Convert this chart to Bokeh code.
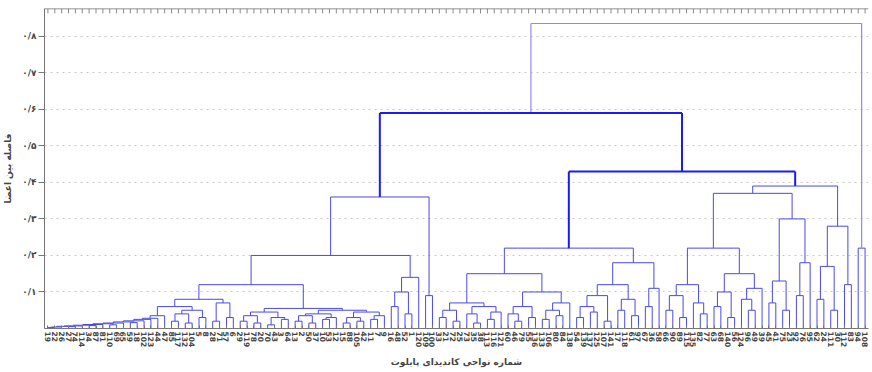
from bokeh.plotting import figure
from bokeh.models import FixedTicker, ColumnDataSource, Range1d
from bokeh.embed import file_html
from bokeh.resources import INLINE

# ---- data ----
leaf_labels = [
    19, 22, 26, 27, 74, 114, 34, 87, 81, 110,
    69, 65, 59, 18, 102, 123, 44, 47, 85, 117,
    132, 104, 5, 8, 28, 71, 57, 6, 29, 119,
    78, 20, 70, 43, 3, 64, 13, 2, 50, 37,
    10, 53, 12, 15, 88, 105, 42, 11, 7, 9,
    16, 48, 52, 1, 120, 109, 100, 33, 21, 72,
    25, 73, 35, 38, 113, 116, 121, 60, 46, 79,
    55, 136, 133, 106, 80, 84, 138, 54, 139, 137,
    125, 107, 141, 17, 118, 61, 97, 67, 36, 58,
    66, 90, 89, 115, 135, 82, 77, 63, 68, 140,
    56, 124, 96, 49, 39, 45, 41, 75, 23, 92,
    76, 95, 62, 24, 111, 30, 112, 83, 94, 108,
]

# merge height between each pair of neighbouring leaves (defines the ordered dendrogram)
gap_heights = (
    # left group
    [0.003, 0.004, 0.006, 0.005, 0.007, 0.009, 0.008, 0.011, 0.013, 0.010,
     0.015, 0.018, 0.016, 0.021, 0.025, 0.028, 0.035]
    + [0.06]
    + [0.020, 0.040, 0.015, 0.050, 0.030]
    + [0.08]
    + [0.020, 0.070, 0.030]
    + [0.12]
    + [0.020, 0.035, 0.015, 0.045, 0.010, 0.030, 0.025]
    + [0.055]
    + [0.020, 0.035, 0.015, 0.040, 0.025, 0.030]
    + [0.050]
    + [0.015, 0.030, 0.020, 0.045, 0.025, 0.035]
    + [0.20]
    + [0.06, 0.10, 0.04, 0.14]
    + [0.36]
    + [0.09]
    + [0.59]
    # right group
    + [0.030, 0.050, 0.020, 0.070, 0.040, 0.015, 0.060, 0.025, 0.045]
    + [0.15]
    + [0.040, 0.020, 0.060, 0.030, 0.100, 0.025, 0.050, 0.035, 0.070]
    + [0.22]
    + [0.030, 0.060, 0.045, 0.090, 0.020, 0.120, 0.050, 0.080, 0.035, 0.180, 0.060, 0.110]
    + [0.43]
    + [0.05, 0.09, 0.03, 0.12, 0.07, 0.04, 0.22, 0.06, 0.10, 0.03, 0.15, 0.08, 0.05, 0.11]
    + [0.37]
    + [0.07, 0.13, 0.05, 0.30, 0.09, 0.18]
    + [0.39]
    + [0.08, 0.17, 0.05, 0.28, 0.12]
    + [0.835]
    + [0.22]
)

y_max = 0.876
y_ticks = [0.1, 0.2, 0.3, 0.4, 0.5, 0.6, 0.7, 0.8]
y_tick_labels = ["۰/۱", "۰/۲", "۰/۳", "۰/۴", "۰/۵", "۰/۶", "۰/۷", "۰/۸"]
x_title = "شماره نواحی کاندیدای پایلوت"
y_title = "فاصله بین اعضا"

# ---- styles ----
THIN_COLOR = "#4a4ae2"
THICK_COLOR = "#1c1cf0"
ROOT_COLOR = "#8c8cf0"
THICK_NODES = (0.43, 0.59)
FONT = "DejaVu Sans"
FRAME_H = 324          # plot-area height in px
TOP_TICK_PX = 5

N = len(leaf_labels)
assert len(gap_heights) == N - 1
leaf_x = [i + 0.5 for i in range(N)]

segs = {k: {"x0": [], "y0": [], "x1": [], "y1": []} for k in ("thin", "thick", "root")}
top_h = max(gap_heights)


def add(kind, x0, y0, x1, y1):
    s = segs[kind]
    s["x0"].append(x0); s["y0"].append(y0); s["x1"].append(x1); s["y1"].append(y1)


def build(lo, hi):
    if lo == hi:
        return leaf_x[lo], 0.0
    sub = gap_heights[lo:hi]
    k = lo + sub.index(max(sub))
    lx, lh = build(lo, k)
    rx, rh = build(k + 1, hi)
    h = gap_heights[k]
    if h == top_h:
        kind = "root"
    elif any(abs(h - t) < 1e-9 for t in THICK_NODES):
        kind = "thick"
    else:
        kind = "thin"
    add(kind, lx, h, rx, h)
    add(kind, lx, lh, lx, h)
    add(kind, rx, rh, rx, h)
    return (lx + rx) / 2.0, h


build(0, N - 1)

p = figure(width=870, height=370, output_backend="svg", toolbar_location=None,
           x_range=Range1d(0, N), y_range=Range1d(0, y_max),
           min_border_left=44, min_border_right=2, min_border_top=8, min_border_bottom=38)
p.outline_line_color = None
p.background_fill_color = "white"

# top frame line with a tick at each leaf
tick_len = y_max * TOP_TICK_PX / FRAME_H
p.segment(x0=[0], y0=[y_max], x1=[N], y1=[y_max], line_color="#6e6e6e", line_width=1.5)
p.segment(x0=leaf_x, y0=[y_max] * N, x1=leaf_x, y1=[y_max - tick_len] * N,
          line_color="#8a8a8a", line_width=1)

p.segment("x0", "y0", "x1", "y1", source=ColumnDataSource(segs["thin"]),
          line_color=THIN_COLOR, line_width=1)
p.segment("x0", "y0", "x1", "y1", source=ColumnDataSource(segs["root"]),
          line_color=ROOT_COLOR, line_width=1.2)
p.segment("x0", "y0", "x1", "y1", source=ColumnDataSource(segs["thick"]),
          line_color=THICK_COLOR, line_width=2)

# grid
p.xgrid.visible = False
p.ygrid.ticker = FixedTicker(ticks=y_ticks)
p.ygrid.grid_line_color = "#c8c8c8"
p.ygrid.grid_line_dash = "dotted"

# bottom axis
xa = p.xaxis[0]
xa.ticker = FixedTicker(ticks=leaf_x)
xa.major_label_overrides = {x: str(l) for x, l in zip(leaf_x, leaf_labels)}
xa.major_label_orientation = "vertical"
xa.major_label_text_font = FONT
xa.major_label_text_font_style = "bold"
xa.major_label_text_font_size = "7.5px"
xa.major_label_standoff = 3
xa.major_tick_in = 3
xa.major_tick_out = 0
xa.minor_tick_line_color = None
xa.axis_line_color = "#777777"
xa.major_tick_line_color = "#777777"
xa.axis_label = x_title
xa.axis_label_text_font = FONT
xa.axis_label_text_font_style = "bold"
xa.axis_label_text_font_size = "9px"
xa.axis_label_standoff = 7

# left axis
ya = p.yaxis[0]
ya.ticker = FixedTicker(ticks=y_ticks)
ya.major_label_overrides = {t: s for t, s in zip(y_ticks, y_tick_labels)}
ya.major_label_text_font = FONT
ya.major_label_text_font_style = "bold"
ya.major_label_text_font_size = "9px"
ya.major_label_standoff = 2
ya.major_tick_out = 6
ya.major_tick_in = 0
ya.minor_tick_line_color = None
ya.axis_line_color = "#777777"
ya.major_tick_line_color = "#777777"
ya.axis_label = y_title
ya.axis_label_text_font = FONT
ya.axis_label_text_font_style = "bold"
ya.axis_label_text_font_size = "9px"
ya.axis_label_standoff = 6

open("out.html", "w").write(file_html(p, INLINE))
